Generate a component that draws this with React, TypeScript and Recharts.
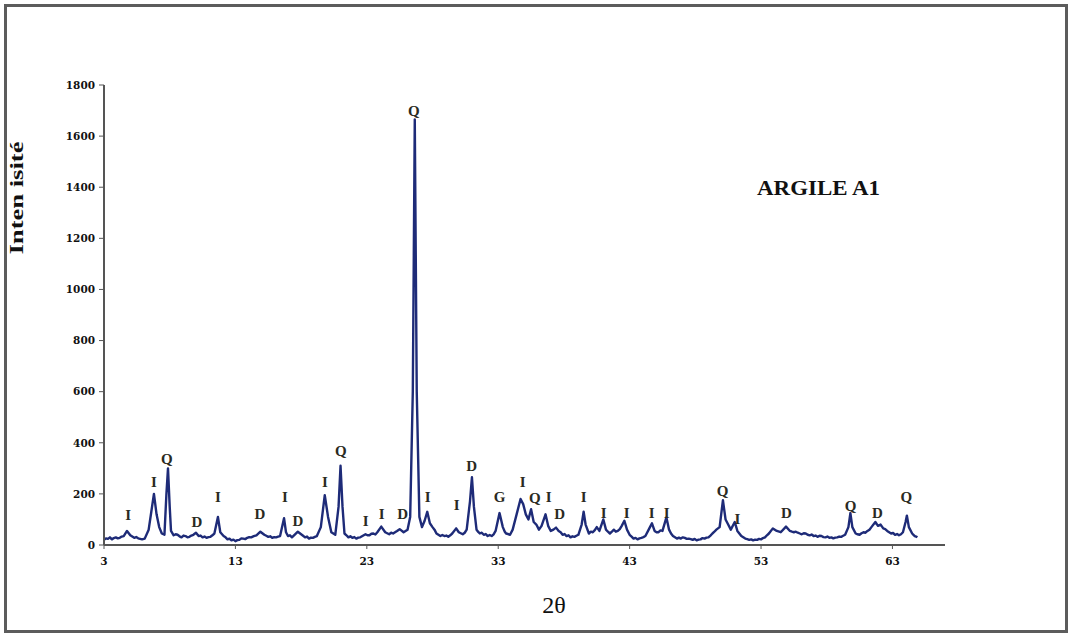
import * as React from 'react'
import {
  ComposedChart,
  Line,
  Scatter,
  XAxis,
  YAxis,
} from 'recharts'

// diffractogram, 2θ (degrees) and intensity
const theta = [
  3.0, 3.15, 3.3, 3.45, 3.6, 3.75, 3.9, 4.05, 4.2, 4.35, 4.5, 4.75, 5.0, 5.15, 5.3, 5.45, 5.6, 5.75, 5.9, 6.1,
  6.4, 6.6, 6.8, 7.0, 7.2, 7.4, 7.6, 7.75, 7.87, 8.0, 8.1, 8.3, 8.45, 8.6, 8.75, 8.9, 9.05, 9.2, 9.35, 9.5,
  9.65, 9.8, 10.0, 10.2, 10.35, 10.5, 10.65, 10.8, 10.95, 11.1, 11.25, 11.4, 11.67, 11.85, 12.1, 12.25, 12.4, 12.55, 12.7, 12.85,
  13.0, 13.15, 13.3, 13.45, 13.6, 13.75, 13.9, 14.05, 14.2, 14.4, 14.6, 14.9, 15.2, 15.35, 15.5, 15.65, 15.8, 15.95, 16.1, 16.25,
  16.4, 16.7, 16.85, 17.0, 17.15, 17.3, 17.5, 17.75, 18.0, 18.15, 18.3, 18.45, 18.6, 18.75, 18.9, 19.05, 19.2, 19.5, 19.8, 20.05,
  20.3, 20.6, 20.85, 21.0, 21.15, 21.3, 21.45, 21.6, 21.75, 21.9, 22.05, 22.2, 22.35, 22.5, 22.7, 22.9, 23.05, 23.2, 23.35, 23.5,
  23.65, 23.8, 24.1, 24.4, 24.55, 24.7, 24.85, 25.0, 25.15, 25.3, 25.5, 25.8, 25.95, 26.1, 26.3, 26.5, 26.65, 26.8, 27.0, 27.2,
  27.4, 27.6, 27.8, 28.0, 28.15, 28.3, 28.45, 28.6, 28.75, 28.9, 29.05, 29.2, 29.35, 29.5, 29.8, 30.0, 30.15, 30.3, 30.45, 30.6,
  30.85, 31.0, 31.15, 31.35, 31.5, 31.6, 31.75, 31.9, 32.05, 32.2, 32.35, 32.5, 32.65, 32.8, 33.1, 33.35, 33.5, 33.6, 33.75, 33.9,
  34.1, 34.4, 34.7, 34.9, 35.1, 35.3, 35.5, 35.7, 35.9, 36.1, 36.3, 36.6, 36.8, 37.0, 37.2, 37.4, 37.6, 37.75, 37.9, 38.05,
  38.2, 38.35, 38.5, 38.65, 38.8, 38.95, 39.1, 39.35, 39.5, 39.65, 39.9, 40.05, 40.2, 40.35, 40.5, 40.7, 41.0, 41.2, 41.35, 41.5,
  41.65, 41.8, 41.95, 42.1, 42.25, 42.4, 42.6, 42.8, 43.0, 43.15, 43.3, 43.45, 43.6, 43.75, 43.9, 44.05, 44.2, 44.5, 44.7, 44.9,
  45.05, 45.2, 45.35, 45.5, 45.8, 46.0, 46.15, 46.3, 46.45, 46.6, 46.75, 46.9, 47.05, 47.2, 47.35, 47.5, 47.65, 47.8, 47.95, 48.1,
  48.25, 48.4, 48.55, 48.7, 48.85, 49.0, 49.15, 49.3, 49.45, 49.6, 49.85, 50.1, 50.3, 50.5, 50.7, 51.0, 51.2, 51.35, 51.5, 51.65,
  51.8, 51.95, 52.1, 52.25, 52.4, 52.55, 52.7, 52.85, 53.0, 53.15, 53.3, 53.45, 53.6, 53.9, 54.2, 54.5, 54.9, 55.2, 55.35, 55.5,
  55.65, 55.8, 55.95, 56.1, 56.25, 56.4, 56.55, 56.7, 56.85, 57.0, 57.15, 57.3, 57.45, 57.6, 57.75, 57.9, 58.05, 58.2, 58.35, 58.5,
  58.65, 58.8, 58.95, 59.1, 59.25, 59.4, 59.65, 59.8, 59.95, 60.2, 60.35, 60.5, 60.65, 60.8, 60.95, 61.1, 61.25, 61.4, 61.7, 61.9,
  62.1, 62.3, 62.45, 62.6, 62.75, 62.9, 63.05, 63.2, 63.35, 63.5, 63.65, 63.8, 64.0, 64.1, 64.25, 64.5, 64.6, 64.7, 64.8, 64.9,
]
const intensity = [
  20, 26, 24, 30, 22, 27, 30, 26, 28, 33, 35, 55, 38, 33, 28, 31, 26, 24, 22, 25,
  60, 130, 200, 120, 70, 45, 40, 200, 300, 150, 55, 38, 42, 40, 34, 30, 37, 35, 30, 32,
  37, 40, 48, 35, 37, 30, 33, 28, 31, 32, 38, 45, 110, 50, 35, 30, 22, 25, 18, 21,
  15, 19, 20, 26, 25, 23, 28, 31, 30, 35, 38, 52, 40, 36, 32, 34, 28, 31, 30, 33,
  35, 105, 50, 35, 38, 30, 40, 52, 42, 36, 30, 33, 25, 29, 28, 32, 35, 70, 195, 110,
  50, 40, 150, 310, 150, 45, 38, 30, 34, 28, 31, 25, 29, 30, 36, 42, 38, 38, 44, 45,
  41, 50, 72, 50, 46, 42, 48, 45, 50, 55, 62, 50, 55, 60, 110, 600, 1665, 600, 110, 70,
  95, 130, 85, 70, 60, 45, 40, 35, 39, 35, 37, 32, 38, 45, 65, 50, 46, 42, 48, 60,
  170, 265, 150, 60, 50, 45, 48, 40, 43, 35, 39, 35, 42, 55, 125, 70, 52, 45, 43, 40,
  60, 120, 180, 160, 120, 100, 140, 90, 80, 60, 75, 120, 75, 55, 60, 68, 55, 50, 40, 43,
  35, 38, 30, 34, 32, 36, 40, 80, 130, 80, 45, 52, 50, 58, 70, 55, 100, 60, 52, 45,
  52, 60, 52, 55, 62, 75, 95, 60, 40, 33, 25, 28, 22, 26, 28, 31, 35, 65, 85, 55,
  50, 50, 57, 55, 108, 60, 45, 35, 30, 25, 29, 25, 30, 28, 24, 25, 23, 20, 24, 18,
  21, 22, 27, 25, 29, 30, 37, 45, 52, 60, 70, 175, 100, 80, 60, 90, 55, 45, 35, 30,
  25, 23, 20, 22, 18, 21, 20, 24, 22, 27, 30, 38, 45, 65, 55, 50, 72, 55, 52, 50,
  52, 48, 45, 42, 46, 45, 40, 38, 41, 35, 37, 32, 36, 35, 31, 30, 33, 28, 30, 26,
  29, 30, 33, 32, 36, 40, 70, 125, 70, 45, 42, 40, 46, 50, 48, 55, 60, 70, 90, 75,
  80, 65, 62, 55, 50, 45, 47, 40, 43, 38, 42, 50, 90, 115, 70, 45, 40, 35, 33, 30,
]

// mineral labels: I illite, Q quartz, D dolomite, G goethite
const labelTheta = [
  4.83, 6.8, 7.79, 10.07, 11.67, 14.86, 16.76, 17.75, 19.81, 21.02, 22.92, 24.14, 25.73, 26.57, 27.64, 29.84, 30.98,
  33.11, 34.86, 35.78, 36.84, 37.68, 39.5, 41.02, 42.77, 44.67, 45.81, 50.07, 51.21, 54.94, 59.81, 61.86, 64.06,
]
const labelIntensity = [
  117, 246, 336, 90, 188, 121, 188, 94, 246, 368, 94, 121, 121, 1700, 188, 156, 309,
  188, 246, 184, 188, 121, 188, 125, 125, 125, 125, 211, 102, 125, 153, 125, 188,
]
const labelText = [
  'I', 'I', 'Q', 'D', 'I', 'D', 'I', 'D', 'I', 'Q', 'I', 'I', 'D', 'Q', 'I', 'I', 'D',
  'G', 'I', 'Q', 'I', 'D', 'I', 'I', 'I', 'I', 'I', 'Q', 'I', 'D', 'Q', 'D', 'Q',
]

const xTicks = [3, 13, 23, 33, 43, 53, 63]
const yTicks = [0, 200, 400, 600, 800, 1000, 1200, 1400, 1600, 1800]

const pattern = theta.map((x, i) => ({ x, y: intensity[i] }))
const peaks = labelTheta.map((x, i) => ({ x, y: labelIntensity[i], t: labelText[i] }))

const SERIF = '"Liberation Serif", "Times New Roman", serif'

function PeakLabel(props: any) {
  const { cx, cy, payload } = props
  return (
    <text
      x={cx}
      y={cy}
      textAnchor='middle'
      dominantBaseline='central'
      fontFamily={SERIF}
      fontWeight='bold'
      fontSize={15}
      fill='#2a2a22'
    >
      {payload.t}
    </text>
  )
}

const tickStyle = {
  fontFamily: '"DejaVu Serif", serif',
  fontWeight: 'bold' as const,
  fontSize: 10.5,
  fill: '#111',
}

export default function App() {
  return (
    <div style={{ position: 'absolute', left: 0, top: 0, width: 1070, height: 634, background: '#fff' }}>
      <div
        style={{
          position: 'absolute',
          left: 4,
          top: 4,
          width: 1064,
          height: 629,
          boxSizing: 'border-box',
          border: '3px solid #5c5c5c',
        }}
      />
      <div style={{ position: 'absolute', left: 0, top: 0 }}>
        <ComposedChart
          width={1070}
          height={634}
          margin={{ top: 85, right: 125, bottom: 59, left: 44 }}
        >
          <XAxis
            dataKey='x'
            type='number'
            domain={[3, 67]}
            ticks={xTicks}
            allowDataOverflow
            height={30}
            tickSize={4}
            tickMargin={9}
            axisLine={{ stroke: '#555', strokeWidth: 2 }}
            tickLine={{ stroke: '#555' }}
            tick={tickStyle}
          />
          <YAxis
            type='number'
            domain={[0, 1800]}
            ticks={yTicks}
            width={60}
            tickSize={5}
            tickMargin={4}
            axisLine={{ stroke: '#555', strokeWidth: 2 }}
            tickLine={{ stroke: '#555' }}
            tick={tickStyle}
          />
          <Line
            data={pattern}
            dataKey='y'
            type='linear'
            stroke='#1e2b78'
            strokeWidth={2.4}
            strokeLinejoin='round'
            dot={false}
            isAnimationActive={false}
          />
          <Scatter
            data={peaks}
            dataKey='y'
            shape={PeakLabel}
            isAnimationActive={false}
          />
        </ComposedChart>
      </div>
      <svg
        width={1070}
        height={634}
        style={{ position: 'absolute', left: 0, top: 0, pointerEvents: 'none' }}
      >
        <text
          transform='translate(23, 198) rotate(-90)'
          textAnchor='middle'
          fontFamily={SERIF}
          fontWeight='bold'
          fontSize={19}
          textLength={113}
          lengthAdjust='spacingAndGlyphs'
          fill='#111'
        >
          Inten isité
        </text>
        <text
          x={554}
          y={613}
          textAnchor='middle'
          fontFamily={SERIF}
          fontSize={24}
          fill='#111'
        >
          2θ
        </text>
        <text
          x={757}
          y={195}
          fontFamily={SERIF}
          fontWeight='bold'
          fontSize={21}
          textLength={123}
          lengthAdjust='spacingAndGlyphs'
          fill='#111'
        >
          ARGILE A1
        </text>
      </svg>
    </div>
  )
}
